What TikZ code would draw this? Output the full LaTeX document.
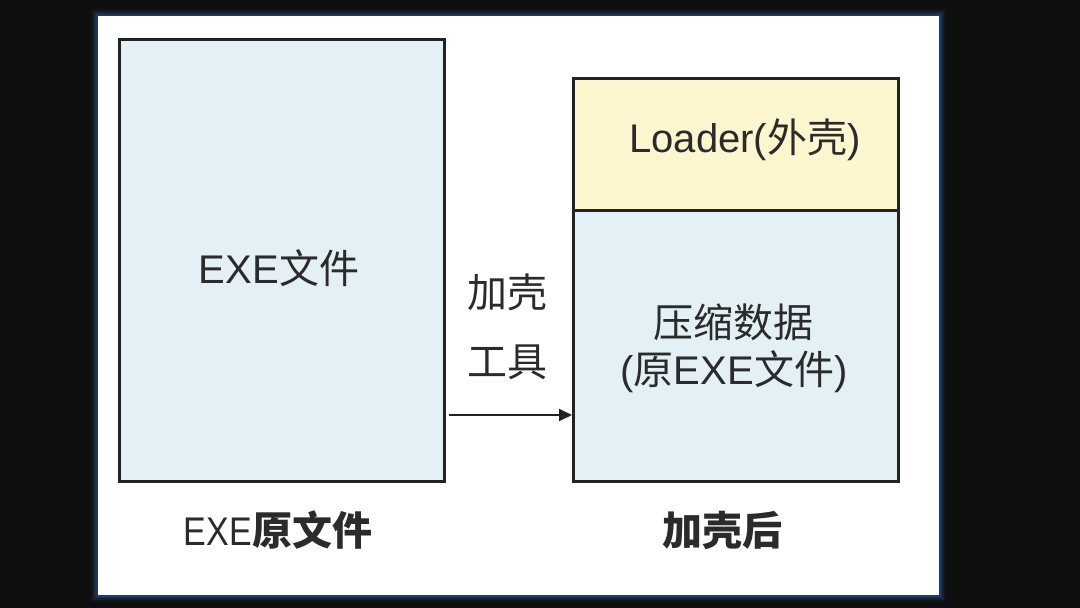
\documentclass[tikz,border=0pt]{standalone}
\usepackage{fontspec}
\setmainfont{Liberation Sans}
\newfontfamily\cjk{Noto Sans CJK SC}
\newfontfamily\narrowsans{Liberation Sans}[FakeStretch=0.85]
\usetikzlibrary{arrows.meta}
\definecolor{bgblack}{HTML}{0E0E0E}
\definecolor{glow}{HTML}{1E3F70}
\definecolor{boxline}{HTML}{222222}
\definecolor{lightblue}{HTML}{E3F1F6}
\definecolor{lightyellow}{HTML}{FEF6CE}
\definecolor{txt}{HTML}{2B2B2B}
\tikzset{
  filebox/.style={draw=boxline, line width=3pt},
  label/.style={text=txt, inner sep=0pt, font=\fontsize{40}{48}\selectfont},
  caption/.style={text=txt, inner sep=0pt, font=\fontsize{40}{48}\selectfont},
}
\begin{document}
\begin{tikzpicture}[x=1pt,y=-1pt]
\fill[bgblack] (0,0) rectangle (1080,608);
\useasboundingbox (0,0) rectangle (1080,608);
% glow frame
\foreach \w/\o in {14/0.15,10/0.3,6/0.55,3/0.9}{
  \draw[glow, line width=\w pt, opacity=\o] (98,16) rectangle (939,595);
}
\fill[white] (98,16) rectangle (939,595);
% boxes
\node[filebox, fill=lightblue, minimum width=325pt, minimum height=442pt, anchor=north west, inner sep=0pt] (exe) at (118,38) {};
\node[filebox, fill=lightyellow, minimum width=325pt, minimum height=132pt, anchor=north west, inner sep=0pt] (loader) at (572,77) {};
\node[filebox, fill=lightblue, minimum width=325pt, minimum height=271pt, anchor=north west, inner sep=0pt] (data) at (572,209) {};
% texts
\node[label] (exetxt) at (279,268) {EXE{\cjk 文件}};
\node[label] (loadertxt) at (745,140) {Loader({\cjk 外壳})};
\node[label] (datatxt1) at (733,322) {\cjk 压缩数据};
\node[label] (datatxt2) at (734,372) {({\cjk 原}EXE{\cjk 文件})};
\node[label] (tool1) at (507,292) {\cjk 加壳};
\node[label] (tool2) at (507,362) {\cjk 工具};
\node[caption] (cap1) at (278,530) {{\narrowsans EXE}{\cjk\bfseries 原文件}};
\node[caption] (cap2) at (722,530) {\cjk\bfseries 加壳后};
% arrow
\coordinate (arrstart) at (449,415);
\draw[line width=2pt, draw=boxline, -{Triangle[length=13pt,width=12pt]}] (arrstart) -- (data.west |- arrstart);
\end{tikzpicture}
\end{document}
